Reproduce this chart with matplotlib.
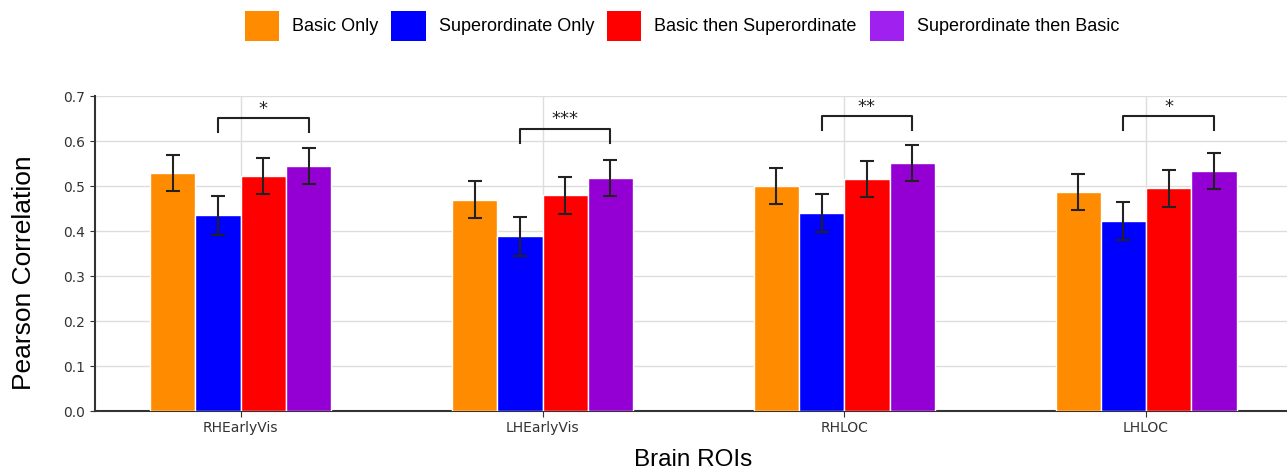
import numpy as np
import matplotlib.pyplot as plt
from matplotlib.patches import Patch

# ROI-wise mean Pearson correlation per training condition (+ error)
rois = ['RHEarlyVis', 'LHEarlyVis', 'RHLOC', 'LHLOC']
conditions = ['Basic Only', 'Superordinate Only',
              'Basic then Superordinate', 'Superordinate then Basic']
colors = ['#FF8C00', '#0000FF', '#FF0000', '#9400D3']
legend_colors = ['#FF8C00', '#0000FF', '#FF0000', '#A020F0']

basic_only = [0.528, 0.470, 0.499, 0.486]
super_only = [0.435, 0.388, 0.440, 0.422]
basic_then_super = [0.523, 0.479, 0.516, 0.495]
super_then_basic = [0.545, 0.518, 0.551, 0.533]

err_basic_only = [0.040, 0.042, 0.040, 0.040]
err_super_only = [0.043, 0.043, 0.042, 0.042]
err_basic_then_super = [0.040, 0.041, 0.040, 0.041]
err_super_then_basic = [0.040, 0.040, 0.040, 0.040]

# significance brackets (Superordinate Only vs Superordinate then Basic)
sig_labels = ['*', '***', '**', '*']
sig_heights = [0.620, 0.596, 0.624, 0.624]

means = [basic_only, super_only, basic_then_super, super_then_basic]
errs = [err_basic_only, err_super_only, err_basic_then_super, err_super_then_basic]

plt.rcParams['font.family'] = ['DejaVu Sans']

fig = plt.figure(figsize=(12.87, 4.73), dpi=100)
ax = fig.add_axes([0.0738, 0.131, 0.93, 0.666])

x = np.arange(len(rois))
width = 0.15
offsets = (np.arange(len(conditions)) - 1.5) * width

for i, cond in enumerate(conditions):
    ax.bar(x + offsets[i], means[i], width, color=colors[i],
           edgecolor='white', linewidth=1, zorder=3, label=cond)
    ax.errorbar(x + offsets[i], means[i], yerr=errs[i], fmt='none',
                ecolor='#222222', elinewidth=1.5, capsize=5, capthick=1.5,
                zorder=4)

# brackets
for j in range(len(rois)):
    x1 = x[j] + offsets[1]
    x2 = x[j] + offsets[3]
    h = sig_heights[j]
    dh = 0.031
    ax.plot([x1, x1, x2, x2], [h, h + dh, h + dh, h], color='#222222',
            lw=1.5, zorder=5)
    ax.text((x1 + x2) / 2, h + dh + 0.001, sig_labels[j], ha='center',
            va='bottom', fontsize=13, color='#222222')

ax.set_xlim(-0.483, 3.483)
ax.set_ylim(0, 0.7)
ax.set_yticks(np.arange(0, 0.71, 0.1))
ax.set_yticklabels([f'{v:.1f}' for v in np.arange(0, 0.71, 0.1)])
ax.set_xticks(x)
ax.set_xticklabels(rois)
ax.tick_params(axis='both', labelsize=10, colors='#333333')
ax.tick_params(axis='x', length=4)

ax.grid(True, color='#dddddd', linewidth=1, zorder=0)
ax.set_axisbelow(True)
for s in ['top', 'right']:
    ax.spines[s].set_visible(False)
for s in ['left', 'bottom']:
    ax.spines[s].set_color('#333333')
    ax.spines[s].set_linewidth(1.5)

ax.set_ylabel('Pearson Correlation', fontsize=19, family='Liberation Sans')
ax.yaxis.set_label_coords(-0.049, 0.44)
ax.set_xlabel('Brain ROIs', fontsize=17.5, family='Liberation Sans',
              labelpad=10)

handles = [Patch(facecolor=c, edgecolor='none') for c in legend_colors]
fig.legend(handles, conditions, loc='upper center',
           bbox_to_anchor=(0.530, 1.012), ncol=4, frameon=False,
           prop={'family': 'Liberation Sans', 'size': 13},
           handlelength=1.9, handleheight=2.2, handletextpad=0.72,
           columnspacing=0.72)

fig.savefig('out.png', dpi=100)
